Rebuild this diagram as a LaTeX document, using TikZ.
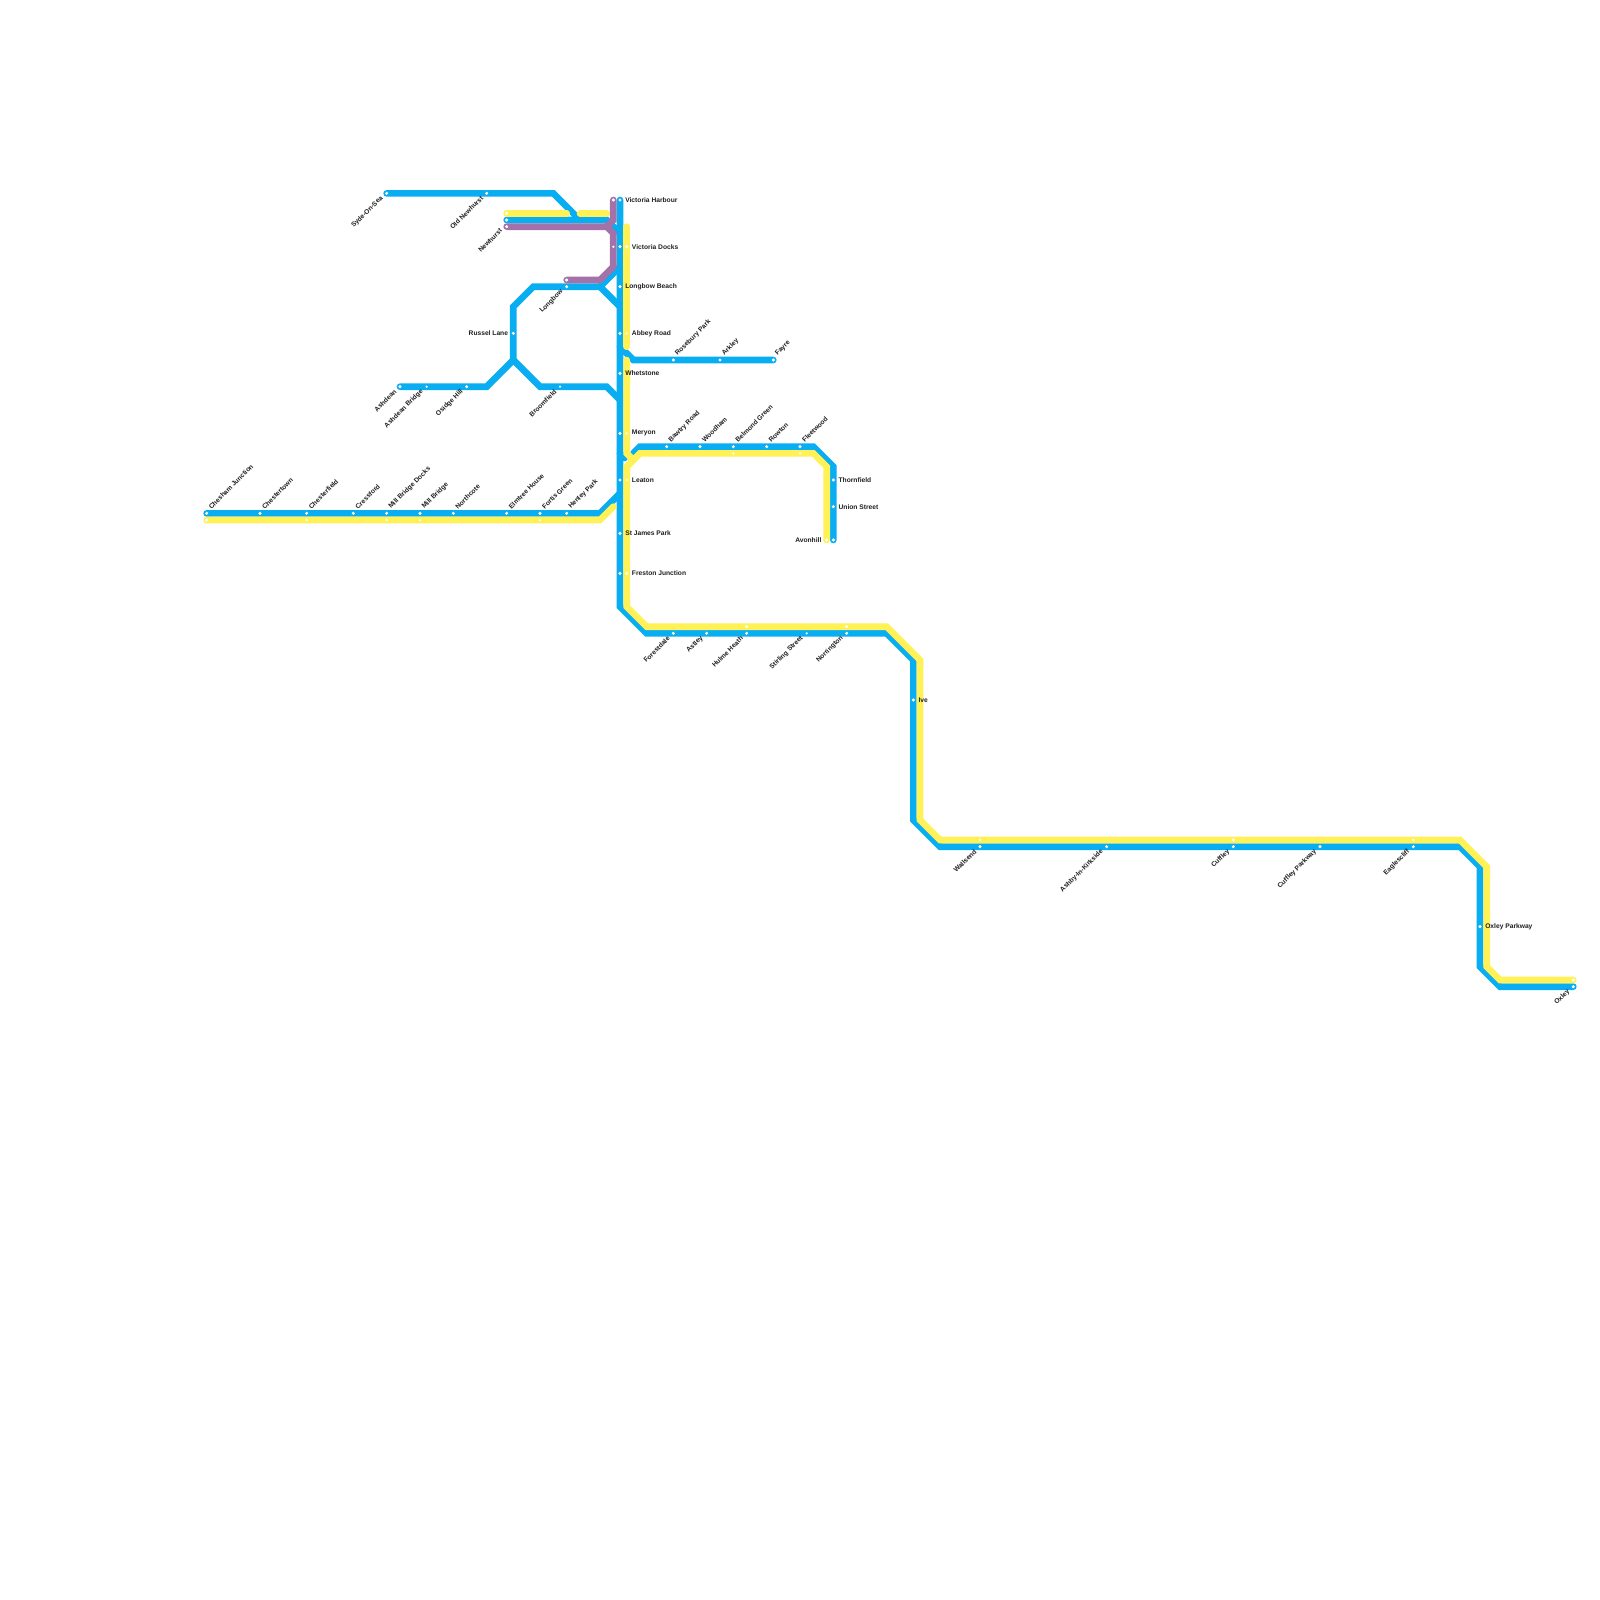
\documentclass[tikz,border=0pt]{standalone}
\usepackage{fontspec}
\setmainfont{Liberation Sans}
\definecolor{lineblue}{HTML}{08ADF2}
\definecolor{lineyellow}{HTML}{FFF156}
\definecolor{linepurple}{HTML}{A272A8}
\pgfdeclarelayer{lines}
\pgfsetlayers{lines,main}
\tikzset{
    main/.style = {draw=none, fill=white, circle, inner sep=0pt, minimum size=0.34mm},
    small/.style = {main, minimum size=0.25mm},
    blueline/.style = {draw=lineblue, line width=0.667mm, line cap=round},
    yellowline/.style = {draw=lineyellow, line width=0.667mm, line cap=round},
    purpleline/.style = {draw=linepurple, line width=0.667mm, line cap=round},
    name label/.style = {font=\bfseries\fontsize{1.9}{2}\selectfont, text=black!88, inner sep=0pt},
    lne/.style = {name label, rotate=45, anchor=west, xshift=0.55mm, yshift=0.17mm},
    lsw/.style = {name label, rotate=45, anchor=east, xshift=-0.55mm, yshift=0.05mm},
    le/.style = {name label, anchor=west, xshift=0.46mm},
    lw/.style = {name label, anchor=east, xshift=-0.46mm}
}
\begin{document}
\begin{tikzpicture}[x=0.6667mm, y=-0.6667mm]
    \useasboundingbox (0,0) rectangle (240,240);

    \node[main] (chesham) at (31,77) {};
    \node[lne] (tchesham) at (chesham) {Chesham Junction};
    \node[main] (chestertown) at (39,77) {};
    \node[lne] (tchestertown) at (chestertown) {Chestertown};
    \node[main] (chesterfield) at (46,77) {};
    \node[lne] (tchesterfield) at (chesterfield) {Chesterfield};
    \node[main] (cressford) at (53,77) {};
    \node[lne] (tcressford) at (cressford) {Cressford};
    \node[main] (millbridgedocks) at (58,77) {};
    \node[lne] (tmillbridgedocks) at (millbridgedocks) {Mill Bridge Docks};
    \node[main] (millbridge) at (63,77) {};
    \node[lne] (tmillbridge) at (millbridge) {Mill Bridge};
    \node[main] (northcote) at (68,77) {};
    \node[lne] (tnorthcote) at (northcote) {Northcote};
    \node[main] (elmtree) at (76,77) {};
    \node[lne] (telmtree) at (elmtree) {Elmtree House};
    \node[main] (fortis) at (81,77) {};
    \node[lne] (tfortis) at (fortis) {Fortis Green};
    \node[main] (henley) at (85,77) {};
    \node[lne] (thenley) at (henley) {Henley Park};

    \node[main] (ychesham) at (31,78) {};
    \node[small] (ychesterfield) at (46,78) {};
    \node[small] (ymillbridgedocks) at (58,78) {};
    \node[small] (ymillbridge) at (63,78) {};
    \node[small] (yfortis) at (81,78) {};

    \node[main] (syde) at (58,29) {};
    \node[lsw] (tsyde) at (syde) {Syde-On-Sea};
    \node[main] (oldnewhurst) at (73,29) {};
    \node[lsw] (toldnewhurst) at (oldnewhurst) {Old Newhurst};
    \node[main] (ynewhurst) at (76,32) {};
    \node[main] (newhurst) at (76,33) {};
    \node[main] (pnewhurst) at (76,34) {};
    \node[lsw, yshift=0.15mm] (tnewhurst) at (pnewhurst) {Newhurst};

    \node[main] (longbow) at (85,43) {};
    \node[lsw] (tlongbow) at (longbow) {Longbow};
    \node[main] (plongbow) at (85,42) {};
    \node[main] (russel) at (77,50) {};
    \node[lw] (trussel) at (russel) {Russel Lane};
    \node[main] (ashdean) at (60,58) {};
    \node[lsw] (tashdean) at (ashdean) {Ashdean};
    \node[small] (ashdeanbridge) at (64,58) {};
    \node[lsw] (tashdeanbridge) at (ashdeanbridge) {Ashdean Bridge};
    \node[main] (osidge) at (70,58) {};
    \node[lsw] (tosidge) at (osidge) {Osidge Hill};
    \node[small] (broomfield) at (84,58) {};
    \node[lsw] (tbroomfield) at (broomfield) {Broomfield};

    \node[main] (harbour) at (93,30) {};
    \node[le] (tharbour) at (harbour) {Victoria Harbour};
    \node[main] (pharbour) at (92,30) {};
    \node[main] (docks) at (93,37) {};
    \node[small] (pdocks) at (92,37) {};
    \node[main] (ydocks) at (94,37) {};
    \node[le] (tdocks) at (ydocks) {Victoria Docks};
    \node[main] (longbowbeach) at (93,43) {};
    \node[le] (tlongbowbeach) at (longbowbeach) {Longbow Beach};
    \node[main] (abbey) at (93,50) {};
    \node[small] (yabbey) at (94,50) {};
    \node[le] (tabbey) at (yabbey) {Abbey Road};
    \node[main] (whetstone) at (93,56) {};
    \node[le] (twhetstone) at (whetstone) {Whetstone};
    \node[main] (meryon) at (93,65) {};
    \node[small] (ymeryon) at (94,65) {};
    \node[le] (tmeryon) at (ymeryon) {Meryon};
    \node[main] (leaton) at (93,72) {};
    \node[small] (yleaton) at (94,72) {};
    \node[le] (tleaton) at (yleaton) {Leaton};
    \node[main] (stjames) at (93,80) {};
    \node[le] (tstjames) at (stjames) {St James Park};
    \node[main] (freston) at (93,86) {};
    \node[main] (yfreston) at (94,86) {};
    \node[le] (tfreston) at (yfreston) {Freston Junction};

    \node[main] (rosebury) at (101,54) {};
    \node[lne] (trosebury) at (rosebury) {Rosebury Park};
    \node[main] (arkley) at (108,54) {};
    \node[lne] (tarkley) at (arkley) {Arkley};
    \node[main] (fayre) at (116,54) {};
    \node[lne] (tfayre) at (fayre) {Fayre};

    \node[main] (bawtry) at (100,67) {};
    \node[lne] (tbawtry) at (bawtry) {Bawtry Road};
    \node[main] (woodham) at (105,67) {};
    \node[lne] (twoodham) at (woodham) {Woodham};
    \node[main] (belmond) at (110,67) {};
    \node[small] (ybelmond) at (110,68) {};
    \node[lne] (tbelmond) at (belmond) {Belmond Green};
    \node[main] (rowton) at (115,67) {};
    \node[lne] (trowton) at (rowton) {Rowton};
    \node[main] (fleetwood) at (120,67) {};
    \node[small] (yfleetwood) at (120,68) {};
    \node[lne] (tfleetwood) at (fleetwood) {Fleetwood};
    \node[main] (thornfield) at (125,72) {};
    \node[le] (tthornfield) at (thornfield) {Thornfield};
    \node[main] (union) at (125,76) {};
    \node[le] (tunion) at (union) {Union Street};
    \node[main] (avonhill) at (125,81) {};
    \node[main] (yavonhill) at (124,81) {};
    \node[lw] (tavonhill) at (yavonhill) {Avonhill};

    \node[main] (forestdale) at (101,95) {};
    \node[lsw] (tforestdale) at (forestdale) {Forestdale};
    \node[main] (astley) at (106,95) {};
    \node[lsw] (tastley) at (astley) {Astley};
    \node[main] (hulme) at (112,95) {};
    \node[main] (yhulme) at (112,94) {};
    \node[lsw] (thulme) at (hulme) {Hulme Heath};
    \node[small] (stirling) at (121,95) {};
    \node[lsw] (tstirling) at (stirling) {Stirling Street};
    \node[main] (norrington) at (127,95) {};
    \node[main] (ynorrington) at (127,94) {};
    \node[lsw] (tnorrington) at (norrington) {Norrington};
    \node[main] (ive) at (137,105) {};
    \node[le] (tive) at (ive) {Ive};

    \node[main] (wallsend) at (147,127) {};
    \node[small] (ywallsend) at (147,126) {};
    \node[lsw] (twallsend) at (wallsend) {Wallsend};
    \node[main] (ashby) at (166,127) {};
    \node[lsw] (tashby) at (ashby) {Ashby-In-Kirkside};
    \node[main] (cuffley) at (185,127) {};
    \node[main] (ycuffley) at (185,126) {};
    \node[lsw] (tcuffley) at (cuffley) {Cuffley};
    \node[main] (cuffleyparkway) at (198,127) {};
    \node[lsw] (tcuffleyparkway) at (cuffleyparkway) {Cuffley Parkway};
    \node[main] (eaglescliff) at (212,127) {};
    \node[small] (yeaglescliff) at (212,126) {};
    \node[lsw] (teaglescliff) at (eaglescliff) {Eaglescliff};
    \node[main] (oxleyparkway) at (222,139) {};
    \node[le] (toxleyparkway) at (oxleyparkway) {Oxley Parkway};
    \node[main] (oxley) at (236,148) {};
    \node[main] (yoxley) at (236,147) {};
    \node[lsw] (toxley) at (oxley) {Oxley};

    \begin{pgfonlayer}{lines}
        \path[blueline] (harbour.center) -- (docks.center) -- (longbowbeach.center) -- (abbey.center) -- (whetstone.center) -- (meryon.center) -- (leaton.center) -- (stjames.center) -- (freston.center) -- (93,91) -- (97,95) -- (forestdale.center) -- (astley.center) -- (hulme.center) -- (stirling.center) -- (norrington.center) -- (133,95) -- (137,99) -- (ive.center) -- (137,123) -- (141,127) -- (wallsend.center) -- (ashby.center) -- (cuffley.center) -- (cuffleyparkway.center) -- (eaglescliff.center) -- (219,127) -- (222,130) -- (oxleyparkway.center) -- (222,145) -- (225,148) -- (oxley.center);
        \path[blueline] (chesham.center) -- (chestertown.center) -- (chesterfield.center) -- (cressford.center) -- (millbridgedocks.center) -- (millbridge.center) -- (northcote.center) -- (elmtree.center) -- (fortis.center) -- (henley.center) -- (90,77) -- (93,74);
        \path[blueline] (syde.center) -- (oldnewhurst.center) -- (83,29) -- (87,33);
        \path[blueline] (newhurst.center) -- (91,33) -- (93,35);
        \path[blueline] (93,40) -- (90,43) -- (longbow.center) -- (80,43) -- (77,46) -- (russel.center) -- (77,54) -- (73,58) -- (osidge.center) -- (ashdeanbridge.center) -- (ashdean.center);
        \path[blueline] (77,54) -- (81,58) -- (broomfield.center) -- (91,58) -- (93,60);
        \path[blueline] (90,43) -- (93,46);
        \path[blueline] (93,52) -- (95,54) -- (rosebury.center) -- (arkley.center) -- (fayre.center);
        \path[blueline] (95,68) -- (96,67) -- (bawtry.center) -- (woodham.center) -- (belmond.center) -- (rowton.center) -- (fleetwood.center) -- (122,67) -- (125,70) -- (thornfield.center) -- (union.center) -- (avonhill.center);
        \path[blueline] (93,68) -- (93.7,68.7);

        \path[yellowline] (ychesham.center) -- (ychesterfield.center) -- (ymillbridgedocks.center) -- (ymillbridge.center) -- (yfortis.center) -- (90,78) -- (92,76);
        \path[yellowline] (ynewhurst.center) -- (85,32);
        \path[yellowline] (87,32) -- (91,32);
        \path[yellowline] (94,34) -- (ydocks.center) -- (yabbey.center) -- (94,52);
        \path[yellowline] (94,54) -- (ymeryon.center) -- (94,68) -- (95,69);
        \path[yellowline] (ybelmond.center) -- (96,68) -- (94,70) -- (yleaton.center) -- (yfreston.center) -- (94,91) -- (97,94) -- (yhulme.center) -- (ynorrington.center) -- (133,94) -- (138,99) -- (138,123) -- (141,126) -- (ywallsend.center) -- (ycuffley.center) -- (yeaglescliff.center) -- (219,126) -- (223,130) -- (223,145) -- (225,147) -- (yoxley.center);
        \path[yellowline] (ybelmond.center) -- (yfleetwood.center) -- (122,68) -- (124,70) -- (yavonhill.center);

        \path[purpleline] (pnewhurst.center) -- (91,34) -- (92,35) -- (pdocks.center) -- (92,40) -- (90,42) -- (plongbow.center);
        \path[purpleline] (pharbour.center) -- (92,33) -- (91,34);
    \end{pgfonlayer}
\end{tikzpicture}
\end{document}
